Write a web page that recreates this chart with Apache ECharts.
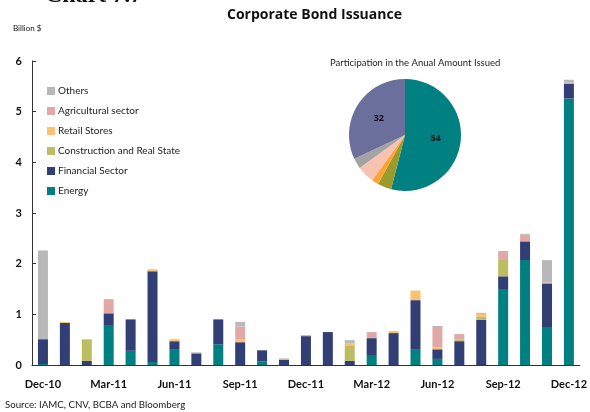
<!DOCTYPE html>
<html>
<head>
<meta charset="utf-8">
<script src="https://cdn.jsdelivr.net/npm/echarts@6/dist/echarts.min.js"></script>
<style>
  html, body { margin: 0; padding: 0; background: #fff; }
  #chart { width: 590px; height: 412px; }
</style>
</head>
<body>
<div id="chart"></div>
<script>
// Monthly corporate bond issuance, billion $
const months = ['Dec-10', 'Jan-11', 'Feb-11', 'Mar-11', 'Apr-11', 'May-11', 'Jun-11', 'Jul-11', 'Aug-11',
  'Sep-11', 'Oct-11', 'Nov-11', 'Dec-11', 'Jan-12', 'Feb-12', 'Mar-12', 'Apr-12', 'May-12', 'Jun-12',
  'Jul-12', 'Aug-12', 'Sep-12', 'Oct-12', 'Nov-12', 'Dec-12']

const energy = [0.02, 0, 0, 0.79, 0.28, 0.06, 0.30, 0, 0.41, 0, 0.07, 0, 0, 0, 0, 0.18, 0, 0.30, 0.12, 0, 0, 1.50, 2.07, 0.75, 5.26]
const financial = [0.49, 0.83, 0.08, 0.23, 0.62, 1.79, 0.17, 0.23, 0.49, 0.45, 0.22, 0.10, 0.57, 0.65, 0.08, 0.35, 0.63, 0.98, 0.19, 0.47, 0.89, 0.25, 0.37, 0.86, 0.29]
const construction = [0, 0, 0.42, 0, 0, 0, 0, 0, 0, 0, 0, 0, 0, 0, 0.31, 0, 0, 0, 0, 0.03, 0.06, 0.34, 0, 0, 0.02]
const retail = [0, 0.02, 0, 0, 0, 0.04, 0.04, 0, 0, 0.05, 0, 0, 0, 0, 0.04, 0, 0.04, 0.19, 0.04, 0, 0.06, 0, 0, 0, 0]
const agricultural = [0, 0, 0, 0.28, 0, 0, 0, 0, 0, 0.26, 0, 0.03, 0.02, 0, 0, 0.12, 0, 0, 0.40, 0.11, 0, 0.14, 0.13, 0.02, 0]
const others = [1.75, 0, 0.01, 0, 0, 0, 0, 0.02, 0, 0.09, 0, 0, 0, 0, 0.06, 0, 0, 0, 0.02, 0, 0.02, 0.02, 0.02, 0.44, 0.06]

// Participation in the annual amount issued (%)
const shareNames = ['Energy', 'Construction and Real State', 'Retail Stores', 'Agricultural sector', 'Others', 'Financial Sector']
const shareValues = [54, 4, 2, 5, 3, 32]

const yTicks = [0, 1, 2, 3, 4, 5, 6]

const font = 'Lato, "Open Sans", sans-serif'

const barColors = {
  'Energy': '#008080',
  'Financial Sector': '#323f74',
  'Construction and Real State': '#bcbd62',
  'Retail Stores': '#fcc16f',
  'Agricultural sector': '#e0a9a8',
  'Others': '#b8b8b8'
}
const pieColors = ['#008080', '#9b9b2c', '#ffa334', '#f8c2b3', '#a3a3a3', '#6b6f9b']

const stackData = [
  ['Energy', energy],
  ['Financial Sector', financial],
  ['Construction and Real State', construction],
  ['Retail Stores', retail],
  ['Agricultural sector', agricultural],
  ['Others', others]
]

const series = stackData.map(([name, data]) => ({
  name: name,
  type: 'bar',
  stack: 'total',
  barWidth: 10,
  itemStyle: { color: barColors[name] },
  data: data
}))

series.push({
  name: 'Participation',
  type: 'pie',
  center: [405, 135],
  radius: 56,
  startAngle: 90,
  clockwise: true,
  silent: true,
  label: {
    show: true,
    position: 'inside',
    fontFamily: '"Open Sans", sans-serif',
    fontSize: 9,
    fontWeight: 'bold',
    color: '#111',
    formatter: p => (p.value >= 30 ? String(p.value) : '')
  },
  labelLine: { show: false },
  data: shareNames.map((n, i) => ({
    name: n + ' share',
    value: shareValues[i],
    itemStyle: { color: pieColors[i] }
  }))
})

const chart = echarts.init(document.getElementById('chart'))
chart.setOption({
  animation: false,
  backgroundColor: '#fff',
  textStyle: { fontFamily: font },
  grid: { left: 32, right: 8, top: 61, bottom: 47 },
  legend: {
    orient: 'vertical',
    left: 47,
    top: 86,
    padding: 0,
    itemWidth: 8,
    itemHeight: 8,
    itemGap: 10,
    icon: 'rect',
    textStyle: { fontFamily: font, fontSize: 10, color: '#222', padding: [0, 0, 0, -2] },
    data: ['Others', 'Agricultural sector', 'Retail Stores', 'Construction and Real State', 'Financial Sector', 'Energy']
  },
  graphic: [
    {
      type: 'text', left: 45, top: -16,
      style: { text: 'Chart 7.7', font: 'bold 24px "Liberation Serif", serif', fill: '#111' }
    },
    {
      type: 'text', left: 227, top: 8,
      style: { text: 'Corporate Bond Issuance', font: 'bold 14px "Open Sans", sans-serif', fill: '#111' }
    },
    {
      type: 'text', left: 13, top: 24,
      style: { text: 'Billion $', font: '8px ' + font, fill: '#111' }
    },
    {
      type: 'text', left: 330, top: 58,
      style: { text: 'Participation in the Anual Amount Issued', font: '9.5px ' + font, fill: '#222' }
    },
    {
      type: 'text', left: 5, top: 400,
      style: { text: 'Source: IAMC, CNV, BCBA and Bloomberg', font: '9.7px ' + font, fill: '#222' }
    }
  ],
  xAxis: {
    type: 'category',
    data: months,
    axisLine: { lineStyle: { color: '#333', width: 1 } },
    axisTick: { inside: true, length: 5, interval: 2, lineStyle: { color: '#333' } },
    axisLabel: {
      interval: 2,
      margin: 14,
      fontFamily: font,
      fontSize: 11,
      fontWeight: 'bold',
      color: '#111'
    }
  },
  yAxis: {
    type: 'value',
    min: yTicks[0],
    max: yTicks[yTicks.length - 1],
    interval: 1,
    axisLine: { show: true, lineStyle: { color: '#333', width: 1 } },
    axisTick: { show: true, inside: true, length: 4, lineStyle: { color: '#333' } },
    splitLine: { show: false },
    axisLabel: {
      margin: 10,
      fontFamily: font,
      fontSize: 11,
      fontWeight: 'bold',
      color: '#111'
    }
  },
  series: series
})
</script>
</body>
</html>
